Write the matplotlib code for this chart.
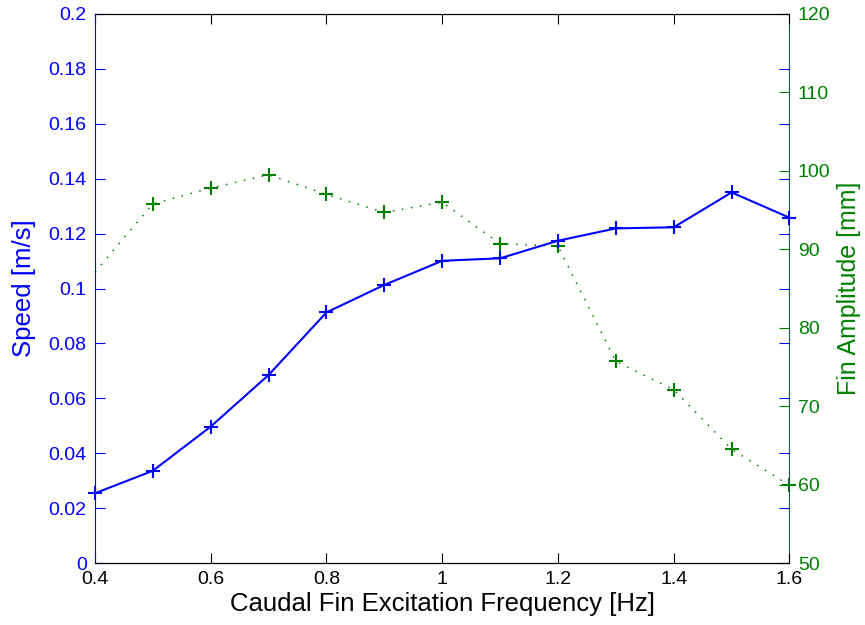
import numpy as np
import matplotlib
matplotlib.use("Agg")
import matplotlib.pyplot as plt

plt.rcParams['font.family'] = ['Liberation Sans', 'DejaVu Sans']

freq = [0.4, 0.5, 0.6, 0.7, 0.8, 0.9, 1.0, 1.1, 1.2, 1.3, 1.4, 1.5, 1.6]
speed = [0.0254, 0.0336, 0.0497, 0.0685, 0.0913, 0.1013, 0.1101, 0.1110,
         0.1174, 0.1219, 0.1223, 0.1350, 0.1258]
amplitude = [87.1, 95.8, 97.8, 99.5, 97.0, 94.7, 96.0, 90.7, 90.4,
             75.7, 72.1, 64.5, 59.9]

speed_ticks = np.arange(0, 0.2001, 0.02)
speed_labels = ['0', '0.02', '0.04', '0.06', '0.08', '0.1', '0.12', '0.14',
                '0.16', '0.18', '0.2']
amp_ticks = [50, 60, 70, 80, 90, 100, 110, 120]
freq_ticks = [0.4, 0.6, 0.8, 1.0, 1.2, 1.4, 1.6]
freq_labels = ['0.4', '0.6', '0.8', '1', '1.2', '1.4', '1.6']

blue = '#0000ff'
green = '#008000'

fig = plt.figure(figsize=(8.65, 6.25), dpi=100)
ax = fig.add_axes([0.1098, 0.0992, 0.9127 - 0.1098, 0.9776 - 0.0992])
ax2 = ax.twinx()

# green series (right axis), first point sits on the edge without a marker
ax2.plot(freq, amplitude, linestyle=(0, (1, 5)), color=green, linewidth=1.1,
         marker='+', markersize=10, markeredgewidth=1.5,
         markevery=slice(1, None), clip_on=False)
ax2.set_ylim(50, 120)
ax2.set_yticks(amp_ticks)
ax2.tick_params(axis='y', direction='in', length=7, colors=green,
                labelsize=14, pad=6)
ax2.set_ylabel('Fin Amplitude [mm]', color=green, fontsize=18, labelpad=5)

# blue series (left axis) drawn on top
ax.plot(freq, speed, linestyle='-', color=blue, linewidth=1.5,
        marker='+', markersize=10, markeredgewidth=1.5, clip_on=False)
ax.set_zorder(ax2.get_zorder() + 1)
ax.patch.set_visible(False)

ax.set_xlim(0.4, 1.6)
ax.set_ylim(0, 0.2)
ax.set_xticks(freq_ticks)
ax.set_xticklabels(freq_labels)
ax.set_yticks(speed_ticks)
ax.set_yticklabels(speed_labels)
ax.tick_params(axis='y', direction='in', length=7, colors=blue,
               labelsize=14, right=True, pad=6)
ax.tick_params(axis='x', direction='in', length=7, colors='black',
               labelsize=14, top=True, pad=6)
ax.set_ylabel('Speed [m/s]', color=blue, fontsize=18.5, labelpad=9)
ax.set_xlabel('Caudal Fin Excitation Frequency [Hz]', fontsize=18.5, labelpad=3)

ax.spines['left'].set_color(blue)
ax.spines['right'].set_visible(False)
ax2.spines['left'].set_visible(False)
ax2.spines['right'].set_color('#1a5a4a')
for a in (ax, ax2):
    a.spines['top'].set_color('black')
    a.spines['bottom'].set_color('black')

fig.savefig('out.png', dpi=100)
